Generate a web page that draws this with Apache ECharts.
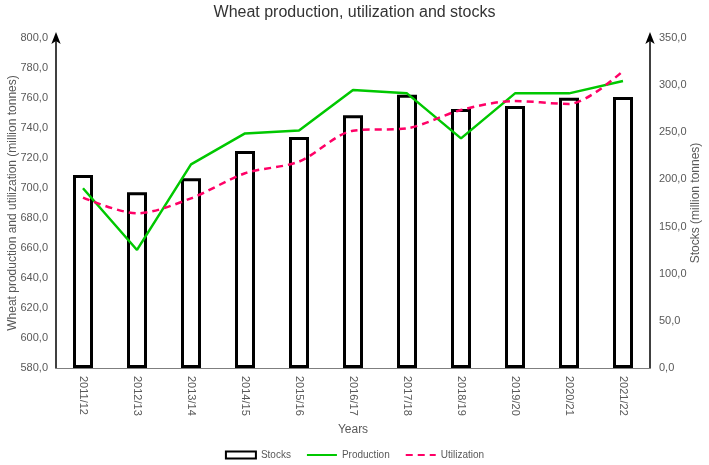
<!DOCTYPE html>
<html>
<head>
<meta charset="utf-8">
<script src="https://cdn.jsdelivr.net/npm/echarts@6/dist/echarts.min.js"></script>
<style>html,body{margin:0;padding:0;background:#fff}#c{width:709px;height:465px}</style>
</head>
<body>
<div id="c"></div>
<script>
var categories = ['2011/12','2012/13','2013/14','2014/15','2015/16','2016/17','2017/18','2018/19','2019/20','2020/21','2021/22'];
var stocks = [204.7, 186.3, 201.2, 230.1, 245.0, 268.0, 289.8, 274.7, 277.9, 286.7, 287.4];
var production = [699.8, 658.7, 715.8, 736.4, 738.4, 765.3, 763.1, 733.1, 763.1, 763.1, 771.3];
var utilization = [693.6, 683.1, 693.1, 709.8, 717.6, 738.2, 739.8, 752.0, 758.0, 756.0, 778.0];

var fmt = function (v) { return v.toFixed(1).replace('.', ','); };
var font = 'Liberation Sans, Arial, sans-serif';
var gray = '#595959';
var hidden = { color: 'rgba(0,0,0,0)', borderColor: 'rgba(0,0,0,0)', borderWidth: 0, opacity: 0 };

var chart = echarts.init(document.getElementById('c'));
chart.setOption({
  animation: false,
  textStyle: { fontFamily: font },
  title: {
    text: 'Wheat production, utilization and stocks',
    left: 'center', top: 0,
    textStyle: { fontFamily: font, fontSize: 16, fontWeight: 'normal', color: '#333' }
  },
  legend: {
    bottom: 0, left: 'center', itemGap: 15, itemWidth: 30, itemHeight: 7,
    textStyle: { fontFamily: font, fontSize: 10, color: gray },
    data: [
      { name: 'Stocks', icon: 'rect' },
      { name: 'Production', itemStyle: hidden },
      { name: 'Utilization', itemStyle: hidden }
    ]
  },
  grid: { left: 56, right: 59, top: 38, bottom: 97, outerBoundsMode: 'none', containLabel: false },
  xAxis: {
    type: 'category',
    data: categories,
    name: 'Years',
    nameLocation: 'middle',
    nameGap: 56,
    nameMoveOverlap: false,
    nameTextStyle: { fontFamily: font, fontSize: 12, color: gray },
    axisLine: { lineStyle: { color: '#7f7f7f', width: 1 } },
    axisTick: { show: false },
    axisLabel: { rotate: -90, color: gray, fontSize: 11, margin: 8, fontFamily: font }
  },
  yAxis: [
    {
      type: 'value', min: 580, max: 800, interval: 20,
      name: 'Wheat production and utilization (million tonnes)',
      nameLocation: 'middle', nameGap: 37,
      nameMoveOverlap: false,
      nameTextStyle: { fontFamily: font, fontSize: 12, color: gray },
      axisLine: { show: true, symbol: ['none', 'arrow'], symbolSize: [7, 12], symbolOffset: [0, 6], lineStyle: { color: '#000', width: 1.5 } },
      axisTick: { show: false },
      splitLine: { show: false },
      axisLabel: { formatter: fmt, color: gray, fontSize: 11, margin: 8, fontFamily: font }
    },
    {
      type: 'value', min: 0, max: 350, interval: 50,
      name: 'Stocks (million tonnes)',
      nameLocation: 'middle', nameGap: 40,
      nameRotate: 90,
      nameMoveOverlap: false,
      nameTextStyle: { fontFamily: font, fontSize: 12, color: gray },
      axisLine: { show: true, symbol: ['none', 'arrow'], symbolSize: [7, 12], symbolOffset: [0, 6], lineStyle: { color: '#000', width: 1.5 } },
      axisTick: { show: false },
      splitLine: { show: false },
      axisLabel: { formatter: fmt, color: gray, fontSize: 11, margin: 9, fontFamily: font }
    }
  ],
  series: [
    {
      name: 'Stocks', type: 'bar', yAxisIndex: 1, data: stocks,
      barWidth: 20,
      itemStyle: { color: '#fff', borderColor: '#000', borderWidth: 3 }
    },
    {
      name: 'Production', type: 'line', yAxisIndex: 0, data: production,
      symbol: 'none',
      lineStyle: { color: '#00C800', width: 2.5 },
      itemStyle: { color: '#00C800' }
    },
    {
      name: 'Utilization', type: 'line', yAxisIndex: 0, data: utilization,
      symbol: 'none', smooth: 0.3,
      lineStyle: { color: '#FF0066', width: 2.5, type: [7, 5] },
      itemStyle: { color: '#FF0066' }
    }
  ]
});
</script>
</body>
</html>
